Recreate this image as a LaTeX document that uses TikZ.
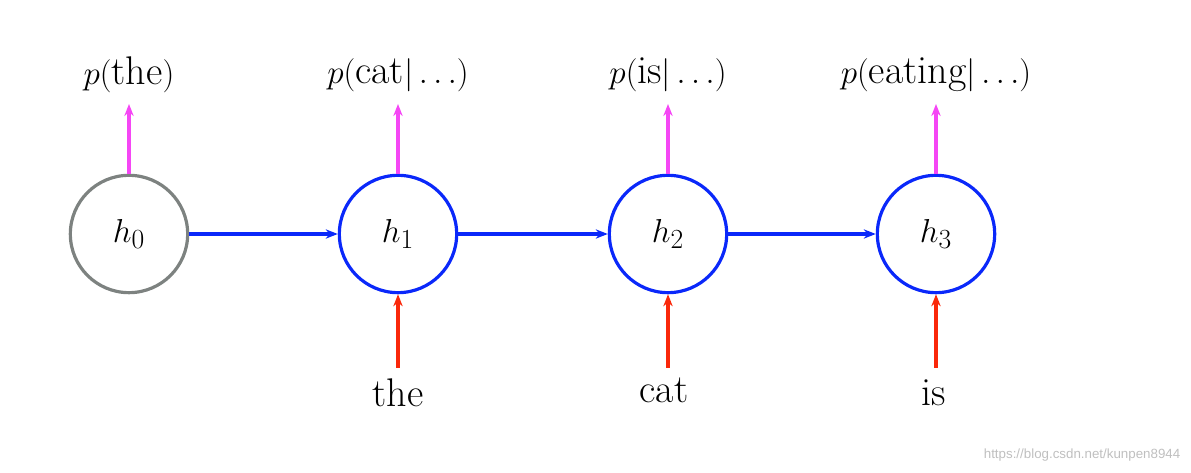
\documentclass[tikz,border=0pt]{standalone}
\usepackage{fontspec}
\newfontfamily\wm{Liberation Sans}
\usetikzlibrary{arrows.meta}
\definecolor{cblue}{RGB}{10,40,250}
\definecolor{cgray}{RGB}{125,130,128}
\definecolor{cpink}{RGB}{245,70,245}
\definecolor{cred}{RGB}{250,40,10}
\begin{document}
\begin{tikzpicture}[x=0.75pt,y=-0.75pt,
  st/.style={circle,draw=cblue,line width=2.4pt,minimum size=88pt,inner sep=0pt,font=\fontsize{30}{36}\selectfont},
  lab/.style={font=\fontsize{30}{36}\selectfont,inner sep=0pt},
  ar/.style={-{Stealth[length=9pt,width=7pt]},line width=2.4pt},
  hz/.style={ar,draw=cblue},
  up/.style={ar,draw=cpink},
  inp/.style={ar,draw=cred}]
\useasboundingbox (0,0) rectangle (1191,473);
\node[st,draw=cgray] (h0) at (129,234) {$h_0$};
\node[st] (h1) at (398,234) {$h_1$};
\node[st] (h2) at (668,234) {$h_2$};
\node[st] (h3) at (936,234) {$h_3$};
\node[lab] (o0) at (129,75) {$p(\mathrm{the})$};
\node[lab] (o1) at (398,75) {$p(\mathrm{cat}|\ldots)$};
\node[lab] (o2) at (668,75) {$p(\mathrm{is}|\ldots)$};
\node[lab] (o3) at (936,75) {$p(\mathrm{eating}|\ldots)$};
\node[lab] (i1) at (398,393) {the};
\node[lab] (i2) at (664,390) {cat};
\node[lab] (i3) at (934,393) {is};
\coordinate (t0) at (129,104); \coordinate (t1) at (398,104);
\coordinate (t2) at (668,104); \coordinate (t3) at (936,104);
\coordinate (b1) at (398,368); \coordinate (b2) at (668,368); \coordinate (b3) at (936,368);
\draw[hz] (h0) -- (h1); \draw[hz] (h1) -- (h2); \draw[hz] (h2) -- (h3);
\draw[up] (h0.north) -- (t0); \draw[up] (h1.north) -- (t1);
\draw[up] (h2.north) -- (t2); \draw[up] (h3.north) -- (t3);
\draw[inp] (b1) -- (h1.south); \draw[inp] (b2) -- (h2.south); \draw[inp] (b3) -- (h3.south);
\node[font=\wm\fontsize{10}{12}\selectfont,text=black!25,anchor=east] (wm) at (1185,455) {https://blog.csdn.net/kunpen8944};
\end{tikzpicture}
\end{document}
